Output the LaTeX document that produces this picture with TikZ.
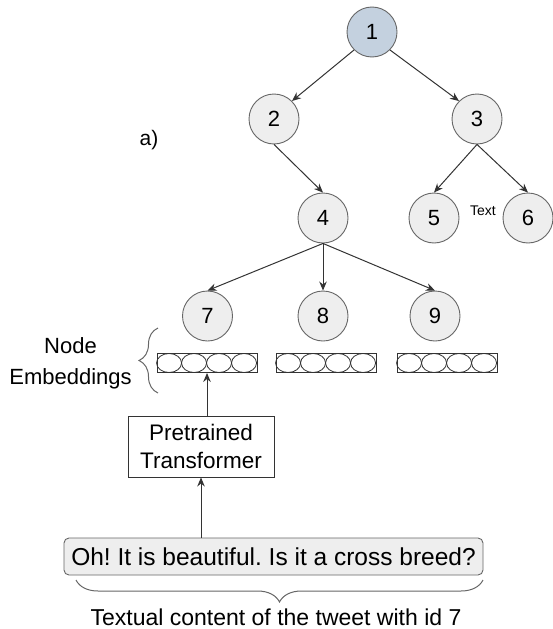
\documentclass[tikz,border=0pt]{standalone}
\usepackage{fontspec}
\setmainfont{Liberation Sans}
\frenchspacing
\usetikzlibrary{arrows.meta,decorations.pathreplacing,calc}
\definecolor{rootfill}{HTML}{C4D1DF}
\definecolor{nodefill}{HTML}{EEEEEE}
\definecolor{edgecol}{HTML}{333333}
\definecolor{bordercol}{HTML}{666666}
\begin{document}
\begin{tikzpicture}[x=1pt,y=-1pt,
  circ/.style={circle, draw=bordercol, fill=nodefill, minimum size=50pt, inner sep=0pt, line width=0.9pt, font=\fontsize{22}{24}\selectfont},
  arr/.style={-{Stealth[length=9pt,width=7.5pt]}, draw=edgecol, line width=1pt},
  bar/.style={rectangle, draw=edgecol, line width=0.9pt, minimum width=100pt, minimum height=19pt, inner sep=0pt},
  brc/.style={draw=bordercol, line width=1pt, decorate, decoration={brace, amplitude=#1}}
]
\useasboundingbox (0,0) rectangle (553,629);
% tree nodes
\node[circ, fill=rootfill] (n1) at (372,32) {1};
\node[circ] (n2) at (274,119) {2};
\node[circ] (n3) at (477,119) {3};
\node[circ] (n4) at (323,218) {4};
\node[circ] (n5) at (434,218) {5};
\node[circ] (n6) at (528,218) {6};
\node[circ] (n7) at (207.5,316) {7};
\node[circ] (n8) at (323,316) {8};
\node[circ] (n9) at (435,316) {9};
\node[font=\fontsize{14}{16}\selectfont] (txt) at (483,211) {Text};
\node[font=\fontsize{21}{24}\selectfont] (lab) at (149,140) {a)};
% edges
\draw[arr] (n1.south west) -- (n2.north east);
\draw[arr] (n1.south east) -- (n3.north west);
\draw[arr] (n2.south) -- (n4.north);
\draw[arr] (n3.south) -- (n5.north);
\draw[arr] (n3.south) -- (n6.north);
\draw[arr] (n4.south) -- (n7.north);
\draw[arr] (n4.south) -- (n8.north);
\draw[arr] (n4.south) -- (n9.north);
% embedding bars
\foreach \nm/\cx in {e1/207, e2/326, e3/447} {
  \node[bar] (\nm) at (\cx,363) {};
  \foreach \i in {0,1,2,3} {
    \draw[edgecol, line width=0.8pt] ($(\nm.west)+(12.5+25*\i,0)$) ellipse [x radius=12.5pt, y radius=9.5pt];
  }
}
% left brace and label
\coordinate (lb1) at (158,393);
\coordinate (lb2) at (158,328);
\draw[brc=19pt] (lb1) -- (lb2);
\node[font=\fontsize{22}{31}\selectfont, align=center] (ne) at (70.5,363) {Node\\Embeddings};
% transformer
\node[rectangle, draw=edgecol, line width=0.9pt, minimum width=146pt, minimum height=61pt, align=center, inner sep=0pt, font=\fontsize{22.5}{28}\selectfont] (tf) at (201,446.5) {Pretrained\\Transformer};
% tweet
\node[rectangle, rounded corners=5pt, draw=bordercol, fill=nodefill, line width=0.9pt, minimum width=419pt, minimum height=37pt, inner sep=0pt, font=\fontsize{24.5}{28}\selectfont] (tw) at (273.5,556.5) {Oh! It is beautiful. Is it a cross breed?};
\draw[arr] (tw.north -| tf.south) -- (tf.south);
\draw[arr] (tf.north -| e1.south) -- (e1.south);
% bottom brace
\coordinate (bb1) at (483,580);
\coordinate (bb2) at (76,580);
\draw[brc=22pt] (bb1) -- (bb2);
\node[font=\fontsize{23}{26}\selectfont, anchor=base, inner sep=0.5pt] (cap) at (276,625) {Textual content of the tweet with id 7};
\end{tikzpicture}
\end{document}
